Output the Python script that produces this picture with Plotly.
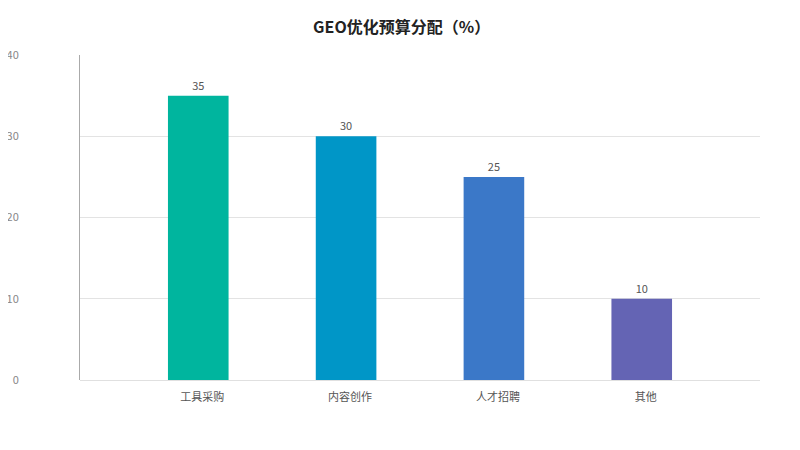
import plotly.graph_objects as go

categories = ["工具采购", "内容创作", "人才招聘", "其他"]
values = [35, 30, 25, 10]
colors = ["#00B59E", "#0096C7", "#3B78C8", "#6464B4"]
y_ticks = [0, 10, 20, 30, 40]

font_family = "Noto Sans CJK SC, Noto Sans, sans-serif"

fig = go.Figure(
    go.Bar(
        x=categories,
        y=values,
        marker=dict(color=colors, line=dict(width=0)),
        width=0.41,
        text=[str(v) for v in values],
        textposition="outside",
        textfont=dict(size=11, color="#555555", family=font_family),
        cliponaxis=False,
    )
)

fig.update_layout(
    width=792,
    height=442,
    margin=dict(l=72, r=40, t=47, b=70, autoexpand=False),
    paper_bgcolor="white",
    plot_bgcolor="white",
    showlegend=False,
    font=dict(family=font_family),
    title=dict(
        text="<b>GEO优化预算分配（%）</b>",
        x=0.497,
        xanchor="center",
        xref="container",
        y=0.957,
        yref="container",
        yanchor="middle",
        font=dict(size=16, color="#222222", family=font_family),
    ),
    xaxis=dict(
        range=[-0.8, 3.8],
        showgrid=False,
        showline=False,
        zeroline=False,
        ticks="",
        ticklabelstandoff=9,
        ticklabelshift=4,
        automargin=False,
        tickfont=dict(size=11, color="#555555", family=font_family),
        fixedrange=True,
    ),
    yaxis=dict(
        range=[0, 40],
        tickvals=y_ticks,
        showgrid=True,
        gridcolor="#E3E3E3",
        gridwidth=1,
        zeroline=True,
        zerolinecolor="#E0E0E0",
        zerolinewidth=1,
        showline=True,
        linecolor="#AAAAAA",
        linewidth=1,
        ticks="",
        ticklabelstandoff=58,
        automargin=False,
        tickfont=dict(size=11, color="#888888", family=font_family),
        fixedrange=True,
    ),
)

fig.write_html("out.html")
